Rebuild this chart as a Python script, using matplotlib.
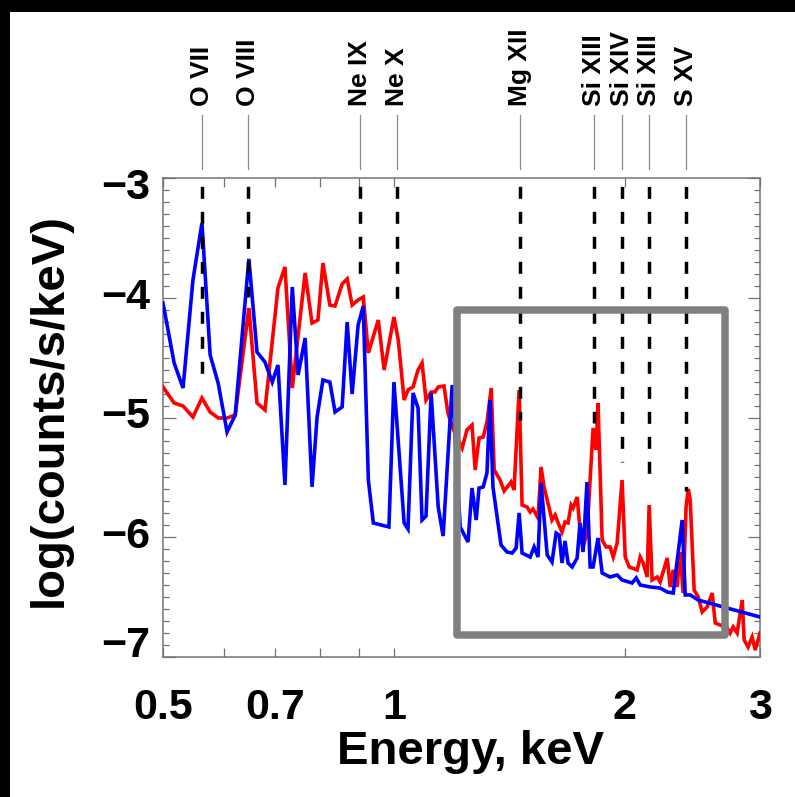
import matplotlib
matplotlib.use("Agg")
import matplotlib.pyplot as plt
from matplotlib.patches import Rectangle
from matplotlib.transforms import blended_transform_factory, ScaledTranslation
from matplotlib.ticker import FixedLocator, NullFormatter

plt.rcParams['font.family'] = ['Liberation Sans', 'DejaVu Sans']

# ---------------- data ----------------
blue_energy = [0.500, 0.517, 0.531, 0.547, 0.562, 0.576, 0.590, 0.606, 0.621, 0.647,
               0.663, 0.679, 0.694, 0.706, 0.721, 0.737, 0.750, 0.766, 0.782, 0.794,
               0.808, 0.825, 0.838, 0.856, 0.869, 0.882, 0.898, 0.912, 0.926, 0.940,
               0.985, 1.000, 1.031, 1.043, 1.059, 1.075, 1.088, 1.101, 1.118, 1.142,
               1.159, 1.191, 1.220, 1.249, 1.264, 1.280, 1.291, 1.307, 1.322, 1.334,
               1.346, 1.379, 1.404, 1.426, 1.443, 1.456, 1.469, 1.505, 1.523, 1.541,
               1.555, 1.584, 1.607, 1.627, 1.642, 1.656, 1.671, 1.686, 1.707, 1.733,
               1.748, 1.764, 1.785, 1.802, 1.818, 1.845, 1.868, 1.913, 1.954, 1.983,
               2.044, 2.069, 2.094, 2.157, 2.223, 2.271, 2.312, 2.375, 2.397, 2.433,
               2.492, 2.686, 3.000]
blue_log = [-4.044, -4.545, -4.754, -3.852, -3.376, -4.478, -4.712, -5.121, -4.979, -3.676,
            -4.453, -4.537, -4.704, -4.562, -5.564, -3.910, -4.645, -4.336, -5.580, -4.996,
            -4.687, -4.704, -4.954, -4.912, -4.203, -4.804, -4.228, -4.069, -5.522, -5.881,
            -5.914, -4.704, -5.881, -5.931, -4.795, -4.921, -5.856, -5.823, -4.795, -5.747,
            -5.990, -4.729, -5.914, -6.040, -5.589, -5.856, -5.589, -5.580, -5.463, -4.854,
            -5.580, -6.065, -6.123, -6.132, -6.090, -5.797, -6.132, -6.165, -6.081, -6.165,
            -5.547, -6.148, -6.207, -5.965, -5.981, -6.215, -6.031, -6.215, -6.248, -6.173,
            -5.881, -6.123, -5.539, -6.248, -6.248, -6.006, -6.299, -6.332, -6.315, -6.357,
            -6.382, -6.340, -6.399, -6.415, -6.424, -6.457, -6.466, -5.856, -6.482, -6.482,
            -6.524, -6.582, -6.666]

red_energy = [0.500, 0.517, 0.531, 0.547, 0.562, 0.576, 0.590, 0.606, 0.621, 0.647,
              0.663, 0.679, 0.706, 0.721, 0.737, 0.766, 0.782, 0.796, 0.808, 0.825,
              0.838, 0.856, 0.869, 0.882, 0.898, 0.912, 0.926, 0.954, 0.971, 1.000,
              1.013, 1.031, 1.043, 1.059, 1.075, 1.088, 1.101, 1.118, 1.131, 1.142,
              1.162, 1.176, 1.191, 1.208, 1.227, 1.245, 1.264, 1.276, 1.291, 1.307,
              1.322, 1.339, 1.351, 1.375, 1.392, 1.421, 1.434, 1.456, 1.469, 1.491,
              1.505, 1.518, 1.541, 1.555, 1.569, 1.584, 1.607, 1.622, 1.637, 1.656,
              1.671, 1.686, 1.702, 1.712, 1.733, 1.748, 1.764, 1.785, 1.818, 1.834,
              1.845, 1.868, 1.890, 1.913, 1.931, 1.954, 1.983, 2.002, 2.026, 2.075,
              2.094, 2.113, 2.138, 2.151, 2.170, 2.204, 2.223, 2.243, 2.271, 2.291,
              2.312, 2.339, 2.361, 2.382, 2.403, 2.419, 2.433, 2.462, 2.492, 2.522,
              2.560, 2.599, 2.623, 2.662, 2.719, 2.743, 2.768, 2.801, 2.844, 2.861,
              2.895, 2.930, 2.957, 3.000]
red_log = [-4.745, -4.879, -4.904, -4.996, -4.837, -4.954, -5.004, -5.004, -4.979, -4.086,
           -4.879, -4.937, -3.919, -3.743, -4.754, -3.793, -4.211, -4.186, -3.710, -4.061,
           -4.069, -3.885, -3.843, -4.061, -4.019, -3.994, -4.461, -4.186, -4.603, -4.161,
           -4.353, -4.854, -4.770, -4.745, -4.603, -4.545, -4.854, -4.787, -4.787, -4.745,
           -4.737, -4.962, -5.079, -5.163, -5.255, -5.104, -5.063, -5.438, -5.171, -5.163,
           -5.038, -4.754, -5.438, -5.522, -5.614, -5.539, -5.605, -4.770, -5.731, -5.747,
           -5.789, -5.764, -5.839, -5.413, -5.580, -5.689, -5.856, -5.814, -5.881, -5.956,
           -5.873, -5.881, -5.731, -5.756, -5.664, -5.940, -6.081, -5.965, -5.088, -5.271,
           -4.879, -6.023, -6.081, -6.081, -6.165, -6.048, -5.522, -6.165, -6.248, -6.273,
           -6.165, -6.215, -6.332, -5.731, -6.357, -6.332, -6.374, -6.290, -6.173, -6.415,
           -6.273, -6.415, -6.123, -6.466, -5.747, -5.597, -5.689, -6.441, -6.499, -6.624,
           -6.582, -6.466, -6.716, -6.733, -6.758, -6.800, -6.749, -6.800, -6.524, -6.858,
           -6.917, -6.833, -6.942, -6.800]

line_names = ['O VII', 'O VIII', 'Ne IX', 'Ne X', 'Mg XII', 'Si XIII', 'Si XIV', 'Si XIII', 'S XV']
line_energy = [0.562, 0.645, 0.903, 1.010, 1.461, 1.824, 1.984, 2.151, 2.403]
line_bottom = [-4.645, -3.99, -3.81, -4.085, -5.02, -5.05, -5.37, -5.55, -5.61]

box_energy = [1.208, 2.70]
box_log = [-6.82, -4.10]

xtick_values = [0.5, 0.7, 1, 2, 3]
xtick_labels = ['0.5', '0.7', '1', '2', '3']
xtick_minor = [0.6, 0.8, 0.9]
ytick_values = [-3, -4, -5, -6, -7]
ytick_labels = ['\u22123', '\u22124', '\u22125', '\u22126', '\u22127']

# ---------------- figure ----------------
W, H = 795, 797
fig = plt.figure(figsize=(W / 100, H / 100), dpi=100, facecolor='white')
# black borders at top and left
fig.patches.append(Rectangle((0, 1 - 12 / H), 1, 12 / H, transform=fig.transFigure,
                             facecolor='black', edgecolor='none', zorder=-10))
fig.patches.append(Rectangle((0, 0), 10 / W, 1, transform=fig.transFigure,
                             facecolor='black', edgecolor='none', zorder=-10))

ax_l, ax_r, ax_t, ax_b = 163, 760, 178, 657
ax = fig.add_axes([ax_l / W, 1 - ax_b / H, (ax_r - ax_l) / W, (ax_b - ax_t) / H])
ax.set_xscale('log')
ax.set_xlim(0.5, 3.0)
ax.set_ylim(-7, -3)

ax.plot(red_energy, red_log, color='#ff0000', lw=2.6, solid_joinstyle='miter', zorder=3)
ax.plot(blue_energy, blue_log, color='#0000ff', lw=2.6, solid_joinstyle='miter', zorder=4)

# emission-line markers
trans_lab = blended_transform_factory(ax.transData, ax.transAxes)
dash_lw = 2.5
for name, e, yb in zip(line_names, line_energy, line_bottom):
    ax.plot([e, e], [-3, yb], color='black', lw=dash_lw,
            linestyle=(4.8, (12 * 0.72 / dash_lw, 13 * 0.72 / dash_lw)), zorder=5)
    ax.plot([e, e], [1 + 9 / 479, 1 + 63 / 479], transform=trans_lab, color='0.55',
            lw=0.9, clip_on=False, zorder=5)
    ax.text(e, 1 + 72 / 479, name, transform=trans_lab, rotation=90, ha='center',
            va='bottom', fontsize=19, fontweight='bold', clip_on=False)

# gray box
ax.add_patch(Rectangle((box_energy[0], box_log[0]), box_energy[1] - box_energy[0],
                       box_log[1] - box_log[0], fill=False, edgecolor='#808080',
                       lw=5.4, joinstyle='round', zorder=6))

# axes styling
for s in ax.spines.values():
    s.set_color('0.45')
    s.set_linewidth(1.1)

ax.xaxis.set_major_locator(FixedLocator(xtick_values))
ax.xaxis.set_minor_locator(FixedLocator(xtick_minor))
ax.set_xticklabels(xtick_labels)
ax.xaxis.set_minor_formatter(NullFormatter())
ax.tick_params(axis='x', which='both', direction='in', top=True, bottom=True,
               length=6.5, width=0.9, color='0.45', pad=22, labelsize=31)
for lbl in ax.get_xticklabels():
    lbl.set_fontweight('bold')

ax.yaxis.set_major_locator(FixedLocator(ytick_values))
ax.yaxis.set_minor_locator(FixedLocator([-7 + 0.1 * i for i in range(41)]))
ax.tick_params(axis='y', which='major', direction='in', left=True, right=True,
               length=9, width=0.9, color='0.45', labelleft=False)
ax.tick_params(axis='y', which='minor', direction='in', left=True, right=True,
               length=4.5, width=0.9, color='0.45')

# y tick labels (drawn as text so the end labels sit inside the frame like the original)
trans_y = blended_transform_factory(ax.transAxes, ax.transData)
y_shift = {-3: -10, -7: 11}
for v, t in zip(ytick_values, ytick_labels):
    off = ScaledTranslation(0, y_shift.get(v, 0) / 100, fig.dpi_scale_trans)
    ax.text(-13 / 597, v, t, transform=trans_y + off, ha='right', va='center',
            fontsize=31, fontweight='bold')

ax.set_xlabel('Energy, keV', fontsize=34, fontweight='bold', va='center')
ax.xaxis.set_label_coords(0.515, -0.198)
ax.set_ylabel('log(counts/s/keV)', fontsize=34, fontweight='bold', va='center')
ax.yaxis.set_label_coords(-0.189, 0.516)

fig.savefig('out.png', dpi=100, facecolor=fig.get_facecolor())
